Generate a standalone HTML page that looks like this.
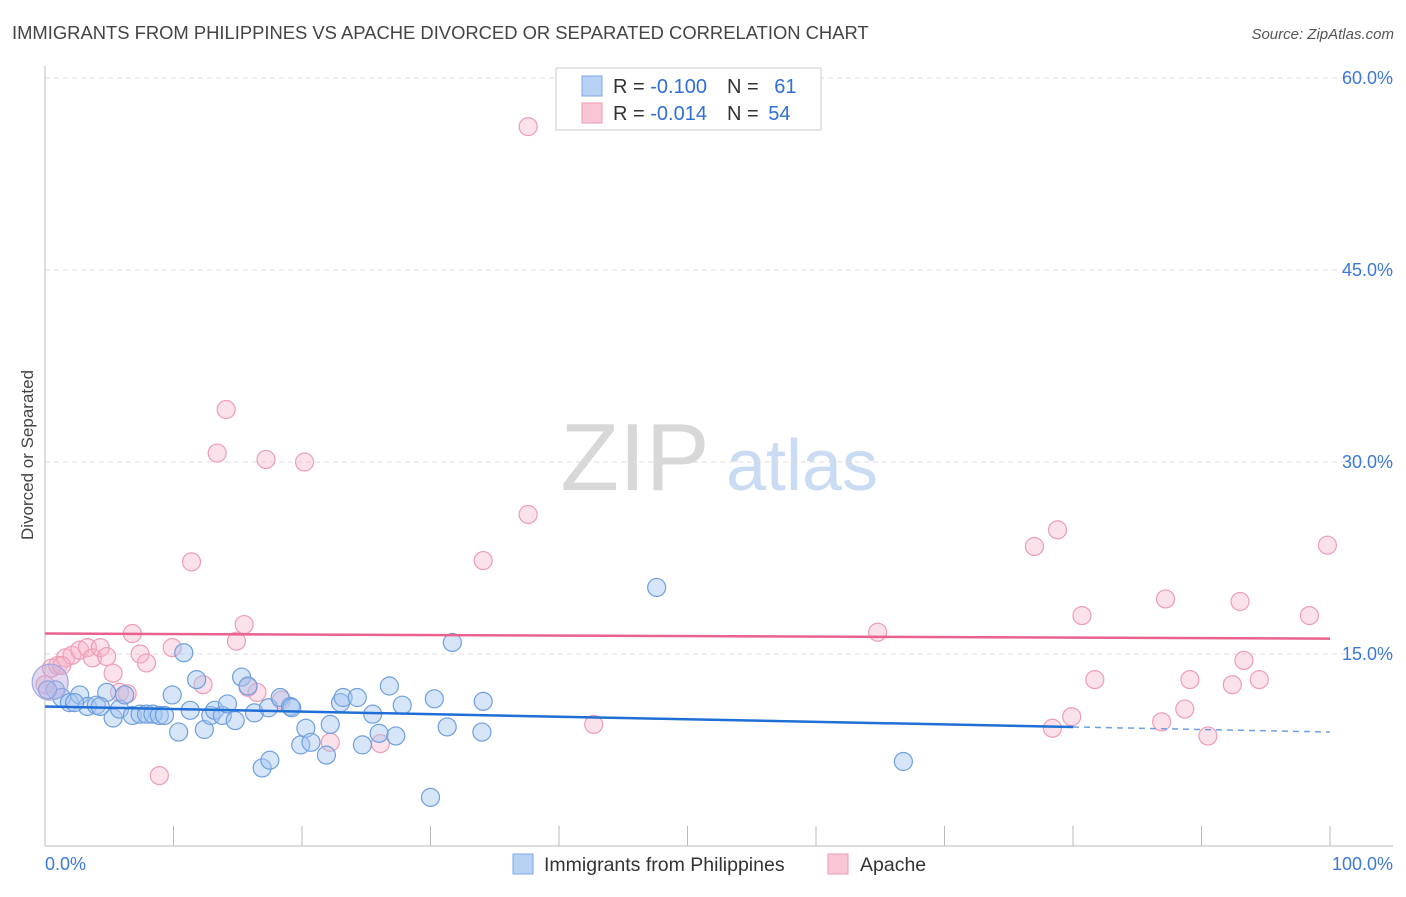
<!DOCTYPE html>
<html><head><meta charset="utf-8"><style>
body{margin:0;background:#fff;font-family:"Liberation Sans",sans-serif;}
svg text{font-family:"Liberation Sans",sans-serif;}
</style></head><body>
<svg id="chart" width="1406" height="892" xmlns="http://www.w3.org/2000/svg">
<text x="12" y="39" font-size="18.4" fill="#444">IMMIGRANTS FROM PHILIPPINES VS APACHE DIVORCED OR SEPARATED CORRELATION CHART</text>
<text x="1394" y="39" font-size="15" fill="#555" text-anchor="end" font-style="italic">Source: ZipAtlas.com</text>
<text transform="translate(33,455) rotate(-90)" font-size="17" fill="#444" text-anchor="middle">Divorced or Separated</text>
<g>
<text x="635" y="490" font-size="96" fill="#d8d8d8" text-anchor="middle" font-family="Liberation Serif, serif">ZIP</text>
<text x="802" y="490" font-size="72" fill="#c9dcf3" text-anchor="middle">atlas</text>
</g>
<g id="grid"></g>
<g id="axes"></g>
<g id="points"></g>
<g id="trends"></g>
<g>
<rect x="556" y="68" width="265" height="62" fill="#fff" stroke="#ccc"/>
<rect x="582" y="76" width="20" height="20" fill="#b8d2f5" stroke="#7ba7e6"/>
<text x="613" y="93" font-size="20" fill="#333">R = <tspan fill="#2f6fd6">-0.100</tspan><tspan dx="20">N = </tspan><tspan fill="#2f6fd6" dx="10">61</tspan></text>
<rect x="582" y="103" width="20" height="20" fill="#f8c6d5" stroke="#ec9ab4"/>
<text x="613" y="120" font-size="20" fill="#333">R = <tspan fill="#2f6fd6">-0.014</tspan><tspan dx="20">N = </tspan><tspan fill="#2f6fd6" dx="4">54</tspan></text>
</g>
<g>
<rect x="513" y="854" width="20" height="20" fill="#b8d2f5" stroke="#7ba7e6"/>
<text x="544" y="871" font-size="19.5" fill="#333">Immigrants from Philippines</text>
<rect x="828" y="854" width="20" height="20" fill="#f8c6d5" stroke="#ec9ab4"/>
<text x="860" y="871" font-size="19.5" fill="#333">Apache</text>
</g>
</svg>
<script>
const yTicks=[15,30,45,60];
const yTickLabels=["15.0%","30.0%","45.0%","60.0%"];
const xTicks=[0,10,20,30,40,50,60,70,80,90,100];
const xEndLabels=["0.0%","100.0%"];
const blueX=[0.8,1.3,1.9,2.7,3.3,4.0,4.8,5.3,5.8,6.2,6.8,7.4,7.9,8.4,8.9,9.3,9.9,10.4,10.8,11.3,11.8,12.4,12.9,13.2,13.8,14.2,14.8,15.3,15.8,16.3,16.9,17.5,17.4,18.3,19.1,19.9,20.3,20.7,21.9,22.2,23.0,23.2,24.3,24.7,25.5,26.0,26.8,27.3,27.8,30.0,30.3,31.3,31.7,34.0,34.1,47.6,66.8,0.2,2.3,4.3,19.2];
const blueY=[12.2,11.6,11.2,11.8,10.9,11.0,12.0,10.0,10.7,11.8,10.2,10.3,10.3,10.3,10.2,10.2,11.8,8.9,15.1,10.6,13.0,9.1,10.2,10.6,10.2,11.1,9.8,13.2,12.5,10.4,6.1,6.7,10.8,11.6,10.9,7.9,9.2,8.1,7.1,9.5,11.2,11.6,11.6,7.9,10.3,8.8,12.5,8.6,11.0,3.8,11.5,9.3,15.9,8.9,11.3,20.2,6.6,12.2,11.2,10.9,10.8];
const pinkX=[0.5,1.0,1.6,2.1,2.7,3.3,3.7,4.3,4.8,5.3,5.8,6.4,6.8,7.4,7.9,8.9,9.9,11.4,12.3,13.4,14.1,14.9,15.5,15.8,16.5,17.2,18.4,20.2,22.2,26.1,34.1,37.6,37.6,42.7,64.8,77.0,78.4,78.8,79.9,80.7,81.7,86.9,87.2,88.7,89.1,90.5,92.4,93.0,93.3,94.5,98.4,99.8,0.0,1.3];
const pinkY=[13.9,14.1,14.7,14.9,15.3,15.5,14.7,15.5,14.8,13.5,12.0,11.9,16.6,15.0,14.3,5.5,15.5,22.2,12.6,30.7,34.1,16.0,17.3,12.4,12.0,30.2,11.4,30.0,8.1,8.0,22.3,25.9,56.2,9.5,16.7,23.4,9.2,24.7,10.1,18.0,13.0,9.7,19.3,10.7,13.0,8.6,12.6,19.1,14.5,13.0,18.0,23.5,12.6,14.1];
const bigPoint=[0.4,12.8];
const blueTrend=[10.9,8.9]; const blueSolidEnd=80;
const pinkTrend=[16.6,16.2];

const NS="http://www.w3.org/2000/svg";
const X0=45,X1=1330,Y0=846,PX=(X1-X0)/100,PY=12.8;
const sx=v=>X0+v*PX, sy=v=>Y0-v*PY;
function mk(tag,parent,attrs){const e=document.createElementNS(NS,tag);for(const k in attrs)e.setAttribute(k,attrs[k]);document.getElementById(parent).appendChild(e);return e;}
yTicks.forEach((t,i)=>{
  const l=mk('line','grid',{x1:X0,x2:1393,y1:sy(t),y2:sy(t),stroke:'#ddd','stroke-dasharray':'5,4'});
  
  
  const tx=mk('text','axes',{x:1393,y:sy(t)-6+12,'font-size':18,fill:'#3c78d8','text-anchor':'end'});
  tx.textContent=yTickLabels[i];
  
  
});
const topGrid=mk('line','grid',{x1:X0,x2:1393,y1:78,y2:78,stroke:'#ddd','stroke-dasharray':'5,4'});


const ya=mk('line','axes',{x1:X0,x2:X0,y1:66,y2:Y0,stroke:'#bbb'});


const xa=mk('line','axes',{x1:X0,x2:1393,y1:Y0,y2:Y0,stroke:'#bbb'});


xTicks.forEach(t=>{
  const l=mk('line','axes',{x1:sx(t),x2:sx(t),y1:826,y2:Y0,stroke:'#bbb'});
  
  
});
const xl0=mk('text','axes',{x:45,y:870,'font-size':18,fill:'#3c78d8'});xl0.textContent=xEndLabels[0];


const xl1=mk('text','axes',{x:1393,y:870,'font-size':18,fill:'#3c78d8','text-anchor':'end'});xl1.textContent=xEndLabels[1];


pinkX.forEach((x,i)=>{
  const c=mk('circle','points',{cx:sx(x),cy:sy(pinkY[i]),r:9,fill:'rgba(246,180,200,0.4)',stroke:'#ee9db6','stroke-width':1.2});
  
  
});
blueX.forEach((x,i)=>{
  const c=mk('circle','points',{cx:sx(x),cy:sy(blueY[i]),r:9,fill:'rgba(165,198,240,0.45)',stroke:'#6f9fe0','stroke-width':1.2});
  
  
});
const bp=mk('circle','points',{cx:sx(bigPoint[0]),cy:sy(bigPoint[1]),r:18,fill:'rgba(190,170,220,0.45)',stroke:'#9fa8e0','stroke-width':1.2});


const bAt=x=>blueTrend[0]+(blueTrend[1]-blueTrend[0])*x/100;
const bl=mk('line','trends',{x1:sx(0),y1:sy(bAt(0)),x2:sx(blueSolidEnd),y2:sy(bAt(blueSolidEnd)),stroke:'#1f6fd6','stroke-width':2.5});


const bd=mk('line','trends',{x1:sx(blueSolidEnd),y1:sy(bAt(blueSolidEnd)),x2:sx(100),y2:sy(bAt(100)),stroke:'#6f9fe0','stroke-width':1.5,'stroke-dasharray':'6,5'});


const pl=mk('line','trends',{x1:sx(0),y1:sy(pinkTrend[0]),x2:sx(100),y2:sy(pinkTrend[1]),stroke:'#e8628c','stroke-width':2.5});


</script>
</body></html>
